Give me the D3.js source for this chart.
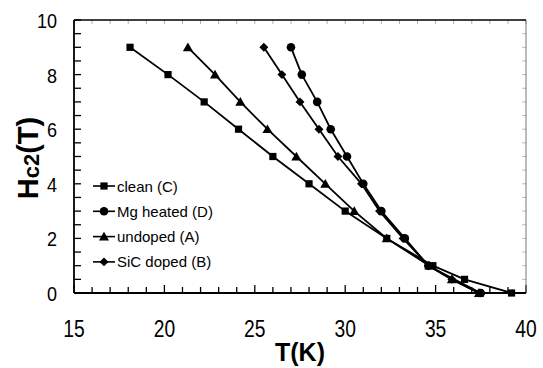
<!DOCTYPE html>
<html>
<head>
<meta charset="utf-8">
<script src="https://cdn.jsdelivr.net/npm/d3@7"></script>
<style>
  body { margin: 0; background: #fff; }
  svg { display: block; font-family: "Liberation Sans", Arial, sans-serif; }
</style>
</head>
<body>
<svg width="543" height="368"></svg>
<script>
// series: temperature T (K) and field Hc2 (T)
const cleanT = [18.1, 20.2, 22.2, 24.1, 26.0, 28.0, 30.0, 32.3, 34.85, 36.6, 39.2];
const cleanH = [9, 8, 7, 6, 5, 4, 3, 2, 1, 0.5, 0];
const mgT = [27.0, 27.6, 28.45, 29.2, 30.1, 31.0, 32.0, 33.3, 34.6, 37.5];
const mgH = [9, 8, 7, 6, 5, 4, 3, 2, 1, 0];
const undopedT = [21.3, 22.8, 24.2, 25.7, 27.3, 28.9, 30.5, 32.3, 34.65, 35.9, 37.4];
const undopedH = [9, 8, 7, 6, 5, 4, 3, 2, 1, 0.5, 0];
const sicT = [25.5, 26.5, 27.5, 28.55, 29.6, 30.9, 31.9, 33.2, 34.6, 35.9, 37.4];
const sicH = [9, 8, 7, 6, 5, 4, 3, 2, 1, 0.5, 0];

const seriesNames = ['clean (C)', 'Mg heated (D)', 'undoped (A)', 'SiC doped (B)'];
const xTicks = [15, 20, 25, 30, 35, 40];
const yTicks = [0, 2, 4, 6, 8, 10];

const margin = { top: 20, right: 17, bottom: 75, left: 74 };
const width = 543, height = 368;
const innerWidth = width - margin.left - margin.right;
const innerHeight = height - margin.top - margin.bottom;

const x = d3.scaleLinear().domain([15, 40]).range([0, innerWidth]);
const y = d3.scaleLinear().domain([0, 10]).range([innerHeight, 0]);

const svg = d3.select('svg');
const g = svg.append('g').attr('transform', `translate(${margin.left},${margin.top})`);

// marker shapes
const markerPath = {
  square: d3.symbol().type(d3.symbolSquare).size(52)(),
  circle: d3.symbol().type(d3.symbolCircle).size(58)(),
  triangle: d3.symbol().type(d3.symbolTriangle).size(44)(),
  diamond: d3.symbol().type(d3.symbolSquare).size(40)()
};

const series = [
  { name: seriesNames[0], t: cleanT, h: cleanH, shape: 'square' },
  { name: seriesNames[1], t: mgT, h: mgH, shape: 'circle' },
  { name: seriesNames[2], t: undopedT, h: undopedH, shape: 'triangle' },
  { name: seriesNames[3], t: sicT, h: sicH, shape: 'diamond' }
];

// minor ticks inside the frame
const xMinor = d3.range(15, 40.01, 1);
const yMinor = d3.range(0, 10.01, 0.5);

g.append('g').selectAll('line').data(xMinor).enter().append('line')
  .attr('x1', d => x(d)).attr('x2', d => x(d))
  .attr('y1', innerHeight).attr('y2', d => innerHeight - (d % 5 === 0 ? 8 : 6))
  .attr('stroke', '#000').attr('stroke-width', 1.3);
g.append('g').selectAll('line').data(xMinor).enter().append('line')
  .attr('x1', d => x(d)).attr('x2', d => x(d))
  .attr('y1', 0).attr('y2', 4)
  .attr('stroke', '#999').attr('stroke-width', 0.8);

g.append('g').selectAll('line').data(yMinor).enter().append('line')
  .attr('x1', 0).attr('x2', 7)
  .attr('y1', d => y(d)).attr('y2', d => y(d))
  .attr('stroke', '#000').attr('stroke-width', 1.3);
g.append('g').selectAll('line').data(yMinor).enter().append('line')
  .attr('x1', innerWidth).attr('x2', innerWidth - 4)
  .attr('y1', d => y(d)).attr('y2', d => y(d))
  .attr('stroke', '#aaa').attr('stroke-width', 0.8);

// frame
g.append('line').attr('x1', 0).attr('x2', innerWidth).attr('y1', 0).attr('y2', 0)
  .attr('stroke', '#000').attr('stroke-width', 1.3);
g.append('line').attr('x1', innerWidth).attr('x2', innerWidth).attr('y1', 0).attr('y2', innerHeight)
  .attr('stroke', '#666').attr('stroke-width', 0.9);
g.append('line').attr('x1', 0).attr('x2', 0).attr('y1', 0).attr('y2', innerHeight)
  .attr('stroke', '#000').attr('stroke-width', 1.8);
g.append('line').attr('x1', 0).attr('x2', innerWidth).attr('y1', innerHeight).attr('y2', innerHeight)
  .attr('stroke', '#000').attr('stroke-width', 1.8);

// tick labels (the original font is a bit condensed)
g.append('g').selectAll('text').data(xTicks).enter().append('text')
  .attr('transform', d => `translate(${x(d)},${innerHeight + 44}) scale(0.82,1)`)
  .attr('text-anchor', 'middle').attr('font-size', 23.5)
  .text(d => d);

g.append('g').selectAll('text').data(yTicks).enter().append('text')
  .attr('transform', d => `translate(-17,${y(d) + 8}) scale(0.86,1)`)
  .attr('text-anchor', 'end').attr('font-size', 21)
  .text(d => d);

// axis titles
svg.append('text')
  .attr('x', 300).attr('y', 361)
  .attr('text-anchor', 'middle').attr('font-size', 25).attr('font-weight', 'bold')
  .text('T(K)');

const yTitle = svg.append('text')
  .attr('transform', 'translate(38,158) rotate(-90)')
  .attr('text-anchor', 'middle').attr('font-size', 29).attr('font-weight', 'bold');
yTitle.append('tspan').text('H');
yTitle.append('tspan').attr('font-size', 22).attr('dy', 1).text('c2');
yTitle.append('tspan').attr('dy', -1).text('(T)');

// lines and markers
const line = d3.line().x(d => x(d[0])).y(d => y(d[1]));

series.forEach(s => {
  const pts = s.t.map((t, i) => [t, s.h[i]]);
  g.append('path').datum(pts)
    .attr('d', line)
    .attr('fill', 'none').attr('stroke', '#000').attr('stroke-width', 1.8);
  g.append('g').selectAll('path').data(pts).enter().append('path')
    .attr('d', markerPath[s.shape])
    .attr('transform', d => `translate(${x(d[0])},${y(d[1]) + (s.shape === 'triangle' ? 1 : 0)})` + (s.shape === 'diamond' ? ' rotate(45)' : ''))
    .attr('fill', '#000');
});

// legend
const legend = svg.append('g').attr('transform', 'translate(93,186)');
const rows = legend.selectAll('g').data(series).enter().append('g')
  .attr('transform', (d, i) => `translate(0,${i * 25.3})`);
rows.append('line').attr('x1', 0).attr('x2', 22).attr('y1', 0).attr('y2', 0)
  .attr('stroke', '#000').attr('stroke-width', 1.6);
rows.append('path')
  .attr('d', d => markerPath[d.shape])
  .attr('transform', d => 'translate(11,' + (d.shape === 'triangle' ? 1 : 0) + ')' + (d.shape === 'diamond' ? ' rotate(45)' : ''))
  .attr('fill', '#000');
rows.append('text')
  .attr('x', 24).attr('y', 5.5)
  .attr('font-size', 15)
  .text(d => d.name);
</script>
</body>
</html>
